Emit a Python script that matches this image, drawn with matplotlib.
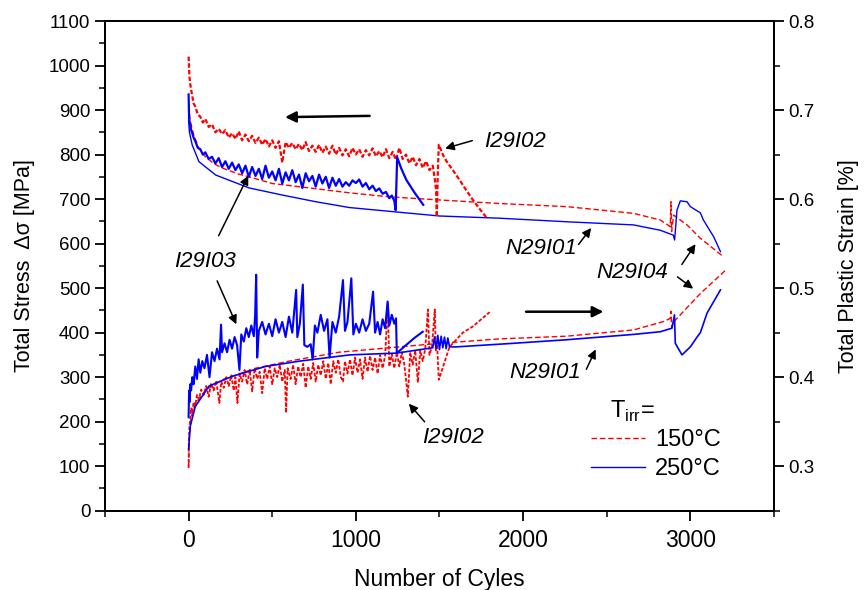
import matplotlib.pyplot as plt
from matplotlib.lines import Line2D

plt.rcParams['font.family'] = ['Liberation Sans', 'DejaVu Sans']

RED = '#ff0000'
BLUE = '#0000ff'
DASH = (0, (4, 2))
FINE = (0, (2, 1))

# --- Total stress curves (left axis, MPa) ---
# I29I02, 150 C, noisy
i29i02_s_x = [0, 5, 10, 20, 30, 40, 55, 70, 85, 100, 120, 140, 160, 180, 200, 220, 240, 260, 280, 300,
              320, 340, 360, 380, 400, 420, 440, 460, 480, 500, 520, 540, 560, 580, 600, 620, 640, 660, 680, 700,
              720, 740, 760, 780, 800, 820, 840, 860, 880, 900, 920, 940, 960, 980, 1000, 1020, 1040, 1060, 1080, 1100,
              1120, 1140, 1160, 1180, 1200, 1220, 1240, 1260, 1280, 1300, 1320, 1340, 1360, 1380, 1400, 1420, 1440, 1460, 1472, 1480,
              1484, 1490, 1496, 1520, 1542, 1580, 1622, 1660, 1700, 1740, 1782]
i29i02_s_y = [1020, 975, 958, 935, 915, 908, 890, 885, 872, 880, 862, 868, 850, 858, 846, 855, 838, 848, 835, 852,
              832, 845, 830, 842, 826, 838, 822, 835, 818, 832, 815, 830, 782, 828, 815, 826, 812, 824, 810, 828,
              808, 820, 806, 822, 804, 818, 802, 820, 800, 815, 798, 812, 796, 815, 800, 812, 795, 810, 798, 814,
              796, 808, 794, 812, 792, 806, 788, 815, 790, 800, 780, 795, 776, 790, 770, 785, 765, 775, 745, 720,
              660, 760, 822, 800, 785, 765, 742, 720, 698, 678, 658]

# I29I03, 250 C, noisy
i29i03_s_x = [0, 3, 8, 15, 22, 30, 40, 55, 70, 85, 100, 120, 140, 160, 180, 200, 220, 240, 260, 280,
              300, 320, 340, 360, 380, 400, 420, 440, 460, 480, 500, 520, 540, 560, 580, 600, 620, 640, 660, 680,
              700, 720, 740, 760, 780, 800, 820, 840, 860, 880, 900, 920, 940, 960, 980, 1000, 1020, 1040, 1060, 1080,
              1100, 1120, 1140, 1160, 1180, 1200, 1215, 1230, 1238, 1247, 1270, 1302, 1350, 1403]
i29i03_s_y = [935, 880, 870, 855, 848, 838, 830, 815, 812, 800, 805, 790, 795, 780, 792, 772, 785, 768, 782, 765,
              778, 758, 775, 750, 772, 752, 768, 745, 775, 748, 762, 742, 768, 735, 760, 742, 765, 738, 755, 725,
              758, 740, 752, 728, 755, 735, 750, 725, 748, 730, 745, 728, 738, 730, 742, 736, 744, 728, 736, 722,
              730, 718, 724, 712, 716, 702, 708, 696, 675, 794, 770, 743, 715, 687]

# smooth 150 C curve
n150_s_x = [0, 10, 30, 60, 100, 150, 200, 300, 362, 500, 723, 963, 1200, 1500, 1861, 2261, 2660, 2820, 2880,
            2884, 2888, 2900, 2980, 3060, 3196]
n150_s_y = [910, 875, 845, 815, 795, 780, 770, 756, 750, 735, 725, 714, 705, 698, 690, 683, 668, 653, 638,
            694, 627, 664, 642, 612, 571]

# smooth 250 C curve
n250_s_x = [0, 5, 22, 62, 162, 362, 561, 761, 961, 1300, 1500, 1861, 2261, 2660, 2820, 2898, 2906,
            2920, 2940, 2980, 3000, 3060, 3078, 3140, 3180]
n250_s_y = [877, 850, 821, 784, 754, 725, 709, 694, 681, 669, 662, 657, 649, 642, 630, 619, 608,
            675, 696, 694, 683, 669, 653, 615, 582]

# --- Total plastic strain curves (right axis, %) ---
# I29I02, 150 C, noisy
i29i02_e_x = [0, 2, 5, 10, 15, 22, 30, 40, 50, 62, 75, 90, 105, 120, 135, 150, 165, 184, 195, 210,
              225, 240, 255, 270, 280, 292, 305, 320, 335, 350, 365, 380, 395, 410, 425, 440, 455, 470, 485, 500,
              515, 530, 545, 560, 575, 583, 592, 610, 625, 640, 655, 670, 685, 700, 715, 730, 745, 760, 775, 790,
              805, 820, 835, 850, 865, 880, 895, 910, 923, 935, 950, 965, 980, 995, 1010, 1025, 1040, 1055, 1070, 1085,
              1100, 1115, 1130, 1145, 1160, 1175, 1191, 1200, 1215, 1230, 1245, 1260, 1275, 1290, 1311, 1325, 1340, 1355, 1371, 1385,
              1400, 1415, 1431, 1440, 1455, 1472, 1478, 1485, 1496, 1560, 1640, 1700, 1800]
i29i02_e_y = [0.298, 0.330, 0.345, 0.352, 0.365, 0.360, 0.372, 0.368, 0.380, 0.375, 0.386, 0.380, 0.390, 0.378, 0.393, 0.385, 0.396, 0.371, 0.395, 0.388,
              0.400, 0.390, 0.402, 0.385, 0.400, 0.371, 0.404, 0.395, 0.408, 0.392, 0.408, 0.384, 0.410, 0.398, 0.406, 0.382, 0.410, 0.398, 0.412, 0.392,
              0.410, 0.400, 0.414, 0.395, 0.408, 0.360, 0.410, 0.398, 0.414, 0.392, 0.412, 0.400, 0.415, 0.388, 0.412, 0.398, 0.416, 0.395, 0.414, 0.402,
              0.418, 0.398, 0.416, 0.392, 0.418, 0.405, 0.420, 0.400, 0.395, 0.418, 0.404, 0.420, 0.402, 0.422, 0.405, 0.420, 0.398, 0.422, 0.406, 0.424,
              0.408, 0.422, 0.404, 0.425, 0.410, 0.424, 0.484, 0.412, 0.426, 0.410, 0.428, 0.412, 0.428, 0.414, 0.378, 0.428, 0.414, 0.430, 0.394, 0.430,
              0.418, 0.432, 0.476, 0.425, 0.434, 0.476, 0.430, 0.440, 0.397, 0.434, 0.450, 0.457, 0.473]

# I29I03, 250 C, noisy
i29i03_e_x = [0, 3, 6, 10, 15, 22, 30, 40, 50, 60, 70, 82, 95, 110, 125, 140, 155, 170, 185, 194,
              200, 215, 230, 245, 260, 275, 290, 304, 315, 330, 345, 360, 375, 390, 398, 404, 410, 420, 440, 460,
              480, 500, 520, 540, 560, 580, 600, 620, 643, 650, 665, 683, 692, 710, 730, 742, 755, 770, 790, 810,
              830, 843, 860, 880, 900, 923, 935, 950, 973, 985, 1000, 1020, 1040, 1060, 1080, 1103, 1115, 1130, 1145, 1160,
              1175, 1190, 1200, 1215, 1230, 1240, 1245, 1300, 1350, 1400]
i29i03_e_y = [0.355, 0.385, 0.372, 0.392, 0.385, 0.400, 0.392, 0.412, 0.398, 0.420, 0.405, 0.418, 0.410, 0.425, 0.400, 0.428, 0.418, 0.432, 0.420, 0.459,
              0.428, 0.438, 0.428, 0.442, 0.432, 0.445, 0.436, 0.408, 0.448, 0.440, 0.455, 0.445, 0.458, 0.446, 0.470, 0.515, 0.422, 0.452, 0.462, 0.448,
              0.460, 0.446, 0.465, 0.450, 0.462, 0.445, 0.468, 0.450, 0.498, 0.445, 0.460, 0.504, 0.436, 0.434, 0.437, 0.420, 0.458, 0.450, 0.470, 0.452,
              0.465, 0.422, 0.462, 0.450, 0.468, 0.509, 0.452, 0.462, 0.511, 0.448, 0.460, 0.450, 0.465, 0.452, 0.460, 0.496, 0.450, 0.462, 0.448, 0.465,
              0.455, 0.485, 0.458, 0.470, 0.460, 0.466, 0.427, 0.436, 0.444, 0.451]

# smooth 150 C curve
n150_e_x = [0, 5, 15, 40, 100, 200, 400, 600, 900, 1200, 1500, 1861, 2260, 2660, 2840, 2880, 2884, 2888, 2900,
            3060, 3210]
n150_e_y = [0.300, 0.335, 0.355, 0.370, 0.385, 0.397, 0.410, 0.418, 0.428, 0.433, 0.438, 0.443, 0.446, 0.453, 0.4625, 0.466, 0.474, 0.456, 0.462,
            0.494, 0.520]

# smooth 250 C curve
n250_e_x = [0, 10, 40, 122, 262, 460, 664, 963, 1243, 1460, 1470, 1480, 1490, 1500, 1510, 1520, 1530, 1540, 1550, 1560,
            1600, 1900, 2260, 2660, 2820, 2890, 2905, 2910, 2950, 3000, 3040, 3060, 3100, 3180]
n250_e_y = [0.319, 0.345, 0.367, 0.390, 0.401, 0.412, 0.418, 0.425, 0.427, 0.433, 0.445, 0.432, 0.447, 0.431, 0.446, 0.433, 0.445, 0.432, 0.444, 0.434,
            0.434, 0.4375, 0.442, 0.448, 0.451, 0.455, 0.470, 0.438, 0.425, 0.434, 0.445, 0.450, 0.472, 0.498]

# --- Annotations (stress-axis data coords) ---
labels = ['I29I02', 'I29I03', 'I29I02', 'N29I01', 'N29I04', 'N29I01']
label_xy = [(1951, 830), (100, 559), (1580, 165), (2107, 590), (2653, 534), (2131, 311)]
arrows = [((1712, 833), (1518, 812)),
          ((172, 612), (364, 758)),
          ((164, 522), (292, 413)),
          ((1422, 195), (1306, 245)),
          ((2321, 593), (2417, 640)),
          ((2940, 548), (3040, 604)),
          ((2910, 529), (3030, 495)),
          ((2371, 312), (2441, 368))]
axis_arrows = [((1099, 887), (560, 884)), ((2001, 447), (2497, 447))]
legend_title_xy = (2652, 222)

fig = plt.figure(figsize=(8.64, 5.90), dpi=100)
ax = fig.add_axes([0.1215, 0.1344, 0.7743, 0.830])
ax2 = ax.twinx()

# stress
ax.plot(n150_s_x, n150_s_y, color=RED, ls=DASH, lw=1.0)
ax.plot(n250_s_x, n250_s_y, color=BLUE, lw=1.0)
ax.plot(i29i02_s_x, i29i02_s_y, color=RED, ls=FINE, lw=1.6)
ax.plot(i29i03_s_x, i29i03_s_y, color=BLUE, lw=1.6)

# strain
ax2.plot(i29i02_e_x, i29i02_e_y, color=RED, ls=FINE, lw=1.3)
ax2.plot(n150_e_x, n150_e_y, color=RED, ls=DASH, lw=1.0)
ax2.plot(n250_e_x, n250_e_y, color=BLUE, lw=1.2)
ax2.plot(i29i03_e_x, i29i03_e_y, color=BLUE, lw=1.5)

ax.set_xlim(-500, 3500)
ax.set_ylim(0, 1100)
ax2.set_ylim(0.25, 0.8)

ax.set_xticks([0, 1000, 2000, 3000])
ax.set_xticks([-500, 500, 1500, 2500, 3500], minor=True)
ax.set_yticks(range(0, 1101, 100))
ax.set_yticks(range(50, 1100, 100), minor=True)
ax2.set_yticks([0.3, 0.4, 0.5, 0.6, 0.7, 0.8])
ax2.set_yticks([0.25, 0.35, 0.45, 0.55, 0.65, 0.75], minor=True)

for a in (ax, ax2):
    for sp in a.spines.values():
        sp.set_linewidth(1.4)
    a.tick_params(which='major', direction='out', length=7, width=1.3)
    a.tick_params(which='minor', direction='out', length=4, width=1.1)
ax.tick_params(axis='x', labelsize=16.5, pad=6)
ax.tick_params(axis='y', labelsize=13.5)
ax2.tick_params(axis='y', labelsize=13.5)

ax.set_xlabel('Number of Cyles', fontsize=16.5, labelpad=12)
ax.set_ylabel('Total Stress  \u0394\u03c3 [MPa]', fontsize=15.5, labelpad=10)
ax2.set_ylabel('Total Plastic Strain [%]', fontsize=15.5, labelpad=17)

for (tail, head) in axis_arrows:
    ax.annotate('', xy=head, xytext=tail,
                arrowprops=dict(arrowstyle='-|>', color='black', lw=1.8, mutation_scale=16))
for (tail, head) in arrows:
    ax.annotate('', xy=head, xytext=tail,
                arrowprops=dict(arrowstyle='-|>', color='black', lw=1.1, mutation_scale=13))
for txt, (x, y) in zip(labels, label_xy):
    ax.text(x, y, txt, fontsize=16, style='italic', ha='center', va='center')

# legend with separate title text
ax.text(*legend_title_xy, 'T$_\\mathregular{irr}$=', fontsize=17, ha='center', va='center')
handles = [Line2D([], [], color=RED, ls=DASH, lw=1.0),
           Line2D([], [], color=BLUE, lw=1.0)]
ax.legend(handles, ['150\u00b0C', '250\u00b0C'],
          loc='lower right', bbox_to_anchor=(0.945, 0.028), frameon=False,
          fontsize=17, handlelength=2.3, handletextpad=0.4,
          labelspacing=0.3, borderpad=0.2)

fig.savefig('out.png', dpi=100)
